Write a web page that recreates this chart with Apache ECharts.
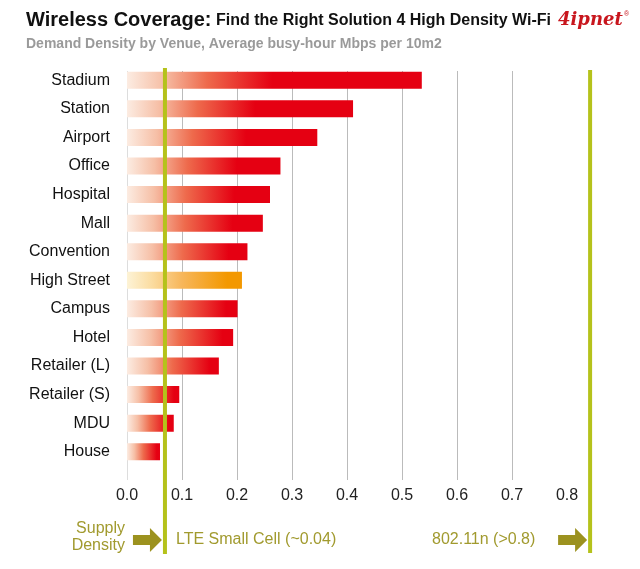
<!DOCTYPE html>
<html>
<head>
<meta charset="utf-8">
<script src="https://cdn.jsdelivr.net/npm/echarts@6/dist/echarts.min.js"></script>
<style>
  html, body { margin: 0; padding: 0; background: #fff; }
  #chart { width: 640px; height: 569px; }
</style>
</head>
<body>
<div id="chart"></div>
<script>
// venues, top to bottom
var venues = ['Stadium', 'Station', 'Airport', 'Office', 'Hospital', 'Mall', 'Convention',
    'High Street', 'Campus', 'Hotel', 'Retailer (L)', 'Retailer (S)', 'MDU', 'House'];
// average busy-hour Mbps per 10m2
var demand = [0.536, 0.411, 0.346, 0.279, 0.260, 0.247, 0.219,
    0.209, 0.201, 0.193, 0.167, 0.095, 0.085, 0.060];
var highlight_venue = 'High Street';
// supply density markers (where the green lines sit on the axis)
var lte_supply = 0.069;
var wifi_supply = 0.842;
var x_ticks = [0, 0.8, 0.1];   // min, max, interval

var olive = '#9c921f';
var olive_text = '#a19a2e';
var green = '#b5c21b';
var font = 'Arial, "Liberation Sans", Helvetica, sans-serif';

function bar_color(params) {
    var v = params.value;
    var hot = params.name === highlight_venue;
    var full = hot ? '#f39800' : '#e50012';
    var mid = hot ? '#f7b65a' : '#ee6a4c';
    var pale = hot ? '#fdf3d6' : '#fcece2';
    // reach full colour sooner on long bars
    var f = Math.min(0.9, 0.13 / v + 0.25);
    return {
        type: 'linear', x: 0, y: 0, x2: 1, y2: 0,
        colorStops: [
            {offset: 0, color: pale},
            {offset: f * 0.25, color: hot ? '#fbdca0' : '#f6bfa6'},
            {offset: f * 0.55, color: mid},
            {offset: f, color: full},
            {offset: 1, color: full}
        ]
    };
}

var chart = echarts.init(document.getElementById('chart'));

var option = {
    backgroundColor: '#fff',
    animation: false,
    grid: [
        {left: 127, width: 440, top: 66, height: 400},
        // grid only for the vertical guide lines and tick labels
        {left: 127, width: 440, top: 71, height: 409}
    ],
    xAxis: [
        {
            gridIndex: 0, type: 'value', min: x_ticks[0], max: x_ticks[1], interval: x_ticks[2],
            show: false
        },
        {
            gridIndex: 1, type: 'value', min: x_ticks[0], max: x_ticks[1], interval: x_ticks[2],
            axisLine: {show: false},
            axisTick: {show: false},
            axisLabel: {
                margin: 8, color: '#222', fontSize: 16, fontFamily: font,
                formatter: function (v) { return v.toFixed(1); }
            },
            splitLine: {
                lineStyle: {
                    color: ['#dddddd', '#bbbbbb', '#bbbbbb', '#bbbbbb', '#bbbbbb',
                        '#bbbbbb', '#bbbbbb', '#bbbbbb', 'rgba(0,0,0,0)'],
                    width: 1
                }
            }
        }
    ],
    yAxis: [
        {
            gridIndex: 0, type: 'category', data: venues, inverse: true,
            axisLine: {show: false},
            axisTick: {show: false},
            axisLabel: {margin: 17, color: '#111', fontSize: 16, fontFamily: font}
        },
        {gridIndex: 1, type: 'value', show: false}
    ],
    series: [{
        type: 'bar',
        xAxisIndex: 0,
        yAxisIndex: 0,
        data: demand,
        barWidth: 17,
        itemStyle: {color: bar_color},
        z: 3
    }]
};
chart.setOption(option);

// positions that follow the axis
var lte_x = chart.convertToPixel({xAxisIndex: 0}, lte_supply);
var wifi_x = chart.convertToPixel({xAxisIndex: 0}, wifi_supply);

function arrow(tip_x, cy) {
    return {
        type: 'polygon',
        shape: {
            points: [
                [tip_x - 29, cy - 5], [tip_x - 12, cy - 5], [tip_x - 12, cy - 12],
                [tip_x, cy], [tip_x - 12, cy + 12], [tip_x - 12, cy + 5], [tip_x - 29, cy + 5]
            ]
        },
        style: {fill: olive},
        z: 10
    };
}

chart.setOption({
    graphic: [
        {type: 'text', left: 26, top: 10,
            style: {text: 'Wireless Coverage:', font: 'bold 20px ' + font, fill: '#111'}},
        {type: 'text', left: 216, top: 13,
            style: {text: 'Find the Right Solution 4 High Density Wi-Fi', font: 'bold 16px ' + font, fill: '#111'}},
        {type: 'text', left: 558, top: 11,
            style: {text: '4ipnet', font: 'italic bold 18px "DejaVu Serif", "Liberation Serif", serif', fill: '#c8161d'}},
        {type: 'text', left: 624, top: 11,
            style: {text: '®', font: '7px ' + font, fill: '#c8161d'}},
        {type: 'text', left: 26, top: 37,
            style: {text: 'Demand Density by Venue, Average busy-hour Mbps per 10m2', font: 'bold 14px ' + font, fill: '#9a9a9a'}},

        {type: 'line', shape: {x1: lte_x, y1: 68, x2: lte_x, y2: 554},
            style: {stroke: green, lineWidth: 4}, z: 20},
        {type: 'line', shape: {x1: wifi_x, y1: 70, x2: wifi_x, y2: 553},
            style: {stroke: green, lineWidth: 4}, z: 20},

        {type: 'text', right: 640 - 125, top: 521,
            style: {text: 'Supply', font: '16px ' + font, fill: olive_text, align: 'right'}},
        {type: 'text', right: 640 - 125, top: 538,
            style: {text: 'Density', font: '16px ' + font, fill: olive_text, align: 'right'}},
        arrow(lte_x - 3, 540),
        {type: 'text', left: 176, top: 532,
            style: {text: 'LTE Small Cell (~0.04)', font: '16px ' + font, fill: olive_text}},
        {type: 'text', left: 432, top: 532,
            style: {text: '802.11n (>0.8)', font: '16px ' + font, fill: olive_text}},
        arrow(wifi_x - 3, 540)
    ]
});
</script>
</body>
</html>
